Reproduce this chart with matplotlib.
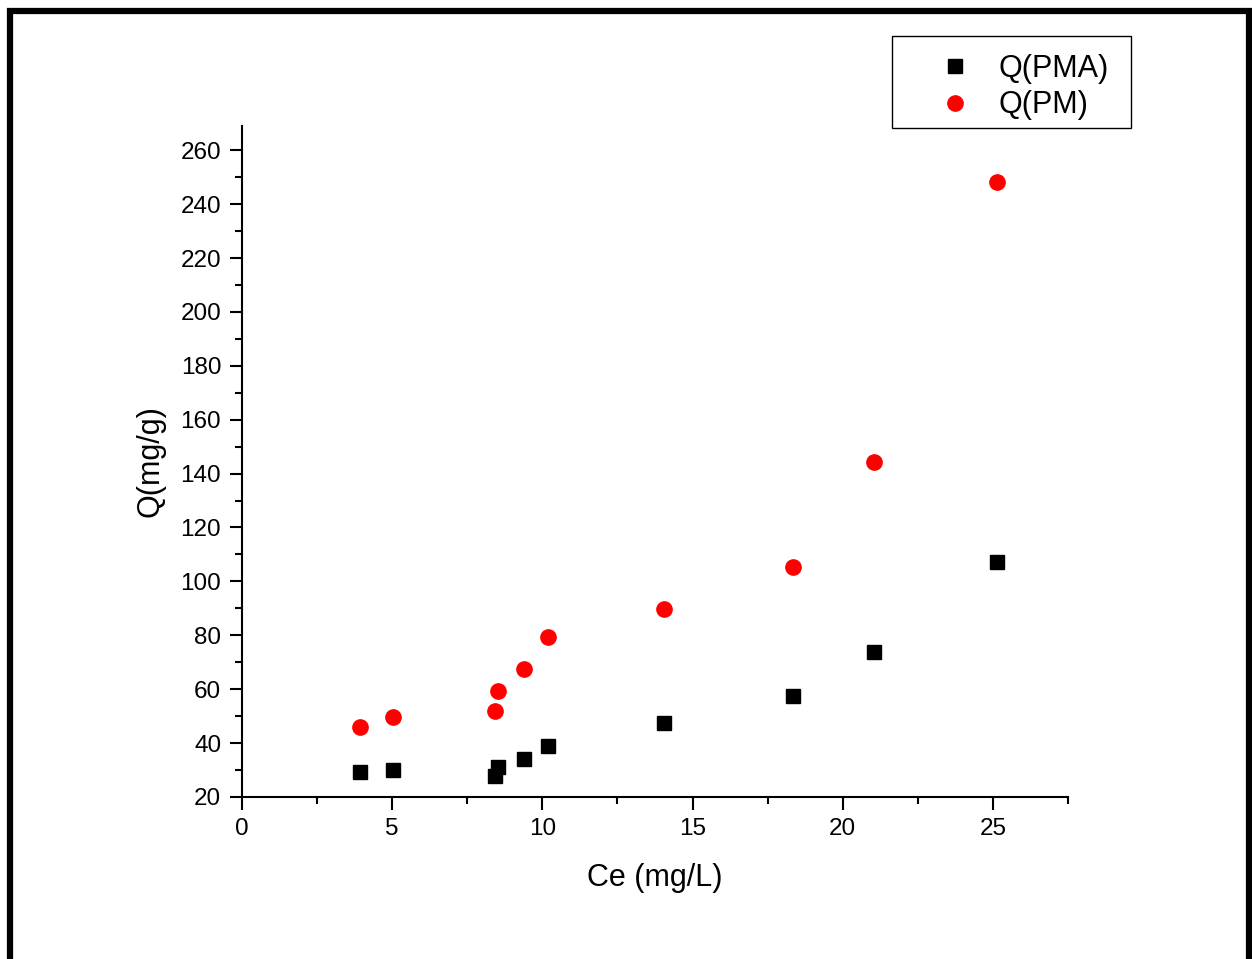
# -*- coding: utf-8 -*-
import matplotlib.pyplot as plt
from matplotlib.patches import Rectangle
from matplotlib.ticker import MultipleLocator

plt.rcParams['font.family'] = ['Liberation Sans', 'DejaVu Sans']

# Ce values (mg/L)
ce = [3.93, 5.03, 8.42, 8.52, 9.39, 10.19, 14.05, 18.34, 21.04, 25.13]
# adsorbed amounts (mg/g)
q_pma = [29.3, 30.0, 27.8, 31.1, 34.1, 38.9, 47.5, 57.5, 73.9, 107.3]
q_pm = [46.0, 49.7, 51.9, 59.4, 67.5, 79.4, 89.8, 105.4, 144.4, 248.1]

W, H = 1252, 959
fig = plt.figure(figsize=(W / 100, H / 100), dpi=100)
ax = fig.add_axes([0.1933, 0.169, 0.6597, 0.6996])

ax.plot(ce, q_pma, 's', color='black', markersize=10, label='Q(PMA)')
ax.plot(ce, q_pm, 'o', color='red', markersize=11, label='Q(PM)')

ax.set_xlim(0, 27.5)
ax.set_ylim(20, 269)
ax.xaxis.set_major_locator(MultipleLocator(5))
ax.xaxis.set_minor_locator(MultipleLocator(2.5))
ax.yaxis.set_major_locator(MultipleLocator(20))
ax.yaxis.set_minor_locator(MultipleLocator(10))

for side in ['top', 'right']:
    ax.spines[side].set_visible(False)
for side in ['left', 'bottom']:
    ax.spines[side].set_linewidth(1.5)

ax.tick_params(which='major', direction='out', length=9, width=1.5, labelsize=17.5, pad=6)
ax.tick_params(which='minor', direction='out', length=5, width=1.5)

ax.set_xlabel('Ce (mg/L)', fontsize=22, labelpad=17)
ax.set_ylabel('Q(mg/g)', fontsize=22, labelpad=11)

# legend entries without frame; the box is drawn separately
ax.legend(loc='upper left',
          bbox_to_anchor=(892 / W, 1 - 137 / H, 239 / W, 92 / H),
          bbox_transform=fig.transFigure, mode='expand',
          fontsize=22, frameon=False,
          handletextpad=-0.33, borderpad=0.3, labelspacing=0.2,
          borderaxespad=0, handlelength=3.5, markerscale=1.0)
fig.patches.append(Rectangle((892 / W, 1 - 128 / H), 239 / W, 92 / H,
                             transform=fig.transFigure, fill=False,
                             edgecolor='black', linewidth=1.0))

# thick outer frame (bottom edge falls outside the picture)
fig.patches.append(Rectangle((10 / W, -0.05), 1239 / W, 1.05 - 11 / H,
                             transform=fig.transFigure, fill=False,
                             edgecolor='black', linewidth=4.5))

plt.savefig('out.png', dpi=100)
